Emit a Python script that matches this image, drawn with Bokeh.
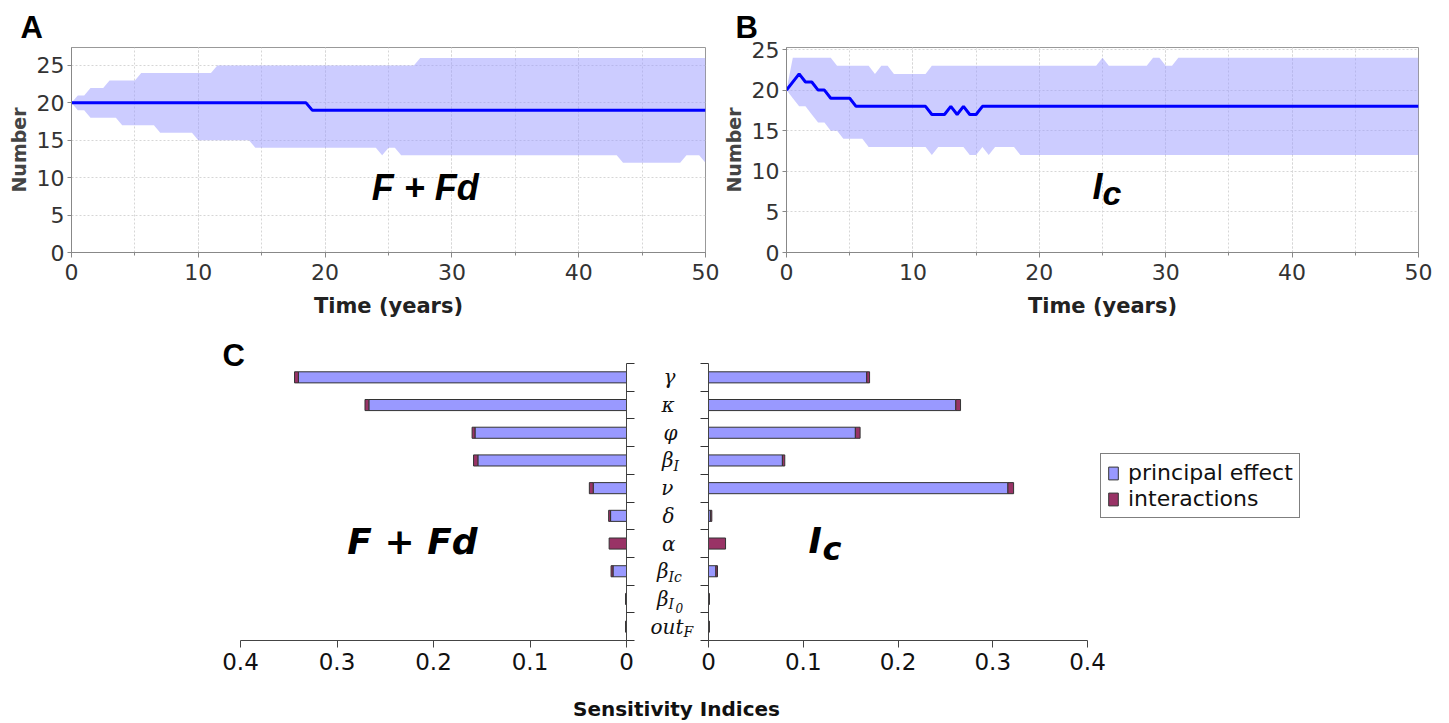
from bokeh.plotting import figure
from bokeh.models import (Range1d, Label, ColumnDataSource, FixedTicker,
                          SingleIntervalTicker, NumeralTickFormatter, Legend, LegendItem)
from bokeh.core.properties import value
from bokeh.layouts import column, row
from bokeh.embed import file_html
from bokeh.resources import INLINE

# ---------------- data: panel A (F + Fd), vertices ----------------
a_mean_t = [0, 18.5, 19, 50]
a_mean_v = [20, 20, 19, 19]
a_hi_t = [0, 0.5, 1, 1.5, 2.5, 3, 5, 5.5, 11, 11.5, 27, 27.5, 50]
a_hi_v = [20, 21, 21, 22, 22, 23, 23, 24, 24, 25, 25, 26, 26]
a_lo_t = [0, 0.5, 1, 1.5, 3.5, 4, 6.5, 7, 9.5, 10, 14, 14.5, 24, 24.5, 25, 25.5, 26, 43, 43.5, 48, 48.5, 49.5, 50]
a_lo_v = [20, 19, 19, 18, 18, 17, 17, 16, 16, 15, 15, 14, 14, 13, 14, 14, 13, 13, 12, 12, 13, 13, 12]

# ---------------- data: panel B (Ic) ----------------
b_mean_t = [0, 1, 1.5, 2, 2.5, 3, 3.5, 5, 5.5, 11, 11.5, 12.5, 13, 13.5, 14, 14.5, 15, 15.5, 50]
b_mean_v = [20, 22, 21, 21, 20, 20, 19, 19, 18, 18, 17, 17, 18, 17, 18, 17, 17, 18, 18]
b_hi_t = [0, 0.5, 3.5, 4, 6.5, 7, 7.5, 8, 8.5, 11, 11.5, 24.5, 25, 25.5, 28.5, 29, 29.5, 30, 30.5, 31, 50]
b_hi_v = [20, 24, 24, 23, 23, 22, 23, 23, 22, 22, 23, 23, 24, 23, 23, 24, 24, 23, 23, 24, 24]
b_lo_t = [0, 0.5, 1, 1.5, 2, 2.5, 3, 3.5, 4, 4.5, 6, 6.5, 11, 11.5, 12, 14, 14.5, 15, 15.5, 16, 16.5, 18, 18.5, 50]
b_lo_v = [20, 19, 18, 18, 17, 16, 16, 15, 15, 14, 14, 13, 13, 12, 13, 13, 12, 12, 13, 12, 13, 13, 12, 12]

# ---------------- data: panel C (sensitivity indices) ----------------
par_main = ["γ", "κ", "φ", "β", "ν", "δ", "α", "β", "β", "out"]
par_sub = ["", "", "", "I", "", "", "", "Ic", "I", "F"]
par_subsub = ["", "", "", "", "", "", "", "", "0", ""]
ffd_principal = [0.340, 0.267, 0.157, 0.154, 0.0345, 0.0165, 0.0, 0.014, 0.0, 0.0]
ffd_interaction = [0.004, 0.004, 0.003, 0.0045, 0.004, 0.002, 0.018, 0.002, 0.001, 0.001]
ic_principal = [0.167, 0.261, 0.155, 0.078, 0.316, 0.002, 0.0, 0.0078, 0.0, 0.0]
ic_interaction = [0.003, 0.005, 0.005, 0.0025, 0.006, 0.0015, 0.018, 0.0017, 0.001, 0.001]
si_ticks = [0, 0.1, 0.2, 0.3, 0.4]

BAND = "#9999ff"
LINE = "#0000ff"
PRIN = "#9999ff"
INTER = "#993366"
SANS = "DejaVu Sans"


def ts_panel(mean_t, mean_v, hi_t, hi_v, lo_t, lo_v, ymax, mbl, mbr, fw, letter):
    p = figure(frame_width=fw, frame_height=205, min_border_left=mbl, min_border_right=mbr,
               min_border_top=47, min_border_bottom=76,
               x_range=Range1d(0, 50), y_range=Range1d(0, ymax),
               output_backend="svg", toolbar_location=None)
    p.title.text = letter
    p.title.align = "left"
    p.title.offset = -51
    p.title.standoff = 5
    p.title.text_font = "Liberation Sans"
    p.title.text_font_style = "bold"
    p.title.text_font_size = "31px"
    p.title.text_color = "black"
    p.patch(hi_t + lo_t[::-1], hi_v + lo_v[::-1], fill_color=BAND, fill_alpha=0.5, line_color=None)
    p.line(mean_t, mean_v, line_color=LINE, line_width=3)
    p.outline_line_color = "#999999"
    p.xaxis.ticker = SingleIntervalTicker(interval=10, num_minor_ticks=2)
    p.yaxis.ticker = SingleIntervalTicker(interval=5, num_minor_ticks=0)
    for ax in (p.xaxis, p.yaxis):
        ax.axis_line_color = "#888888"
        ax.major_tick_line_color = "#888888"
        ax.minor_tick_line_color = "#888888"
        ax.major_tick_in = 0
        ax.minor_tick_in = 0
        ax.major_label_text_font = SANS
        ax.major_label_text_font_size = "22px"
        ax.major_label_text_color = "#333333"
        ax.axis_label_text_font = SANS
        ax.axis_label_text_font_style = "bold"
    p.xaxis.major_tick_out = 5
    p.xaxis.minor_tick_out = 3
    p.xaxis.major_label_standoff = 6
    p.xaxis.axis_label = "Time (years)"
    p.xaxis.axis_label_text_font_size = "21px"
    p.xaxis.axis_label_text_color = "#222222"
    p.xaxis.axis_label_standoff = 11
    p.yaxis.major_tick_out = 4
    p.yaxis.minor_tick_out = 0
    p.yaxis.major_label_standoff = 3
    p.yaxis.axis_label = "Number"
    p.yaxis.axis_label_text_font_size = "19px"
    p.yaxis.axis_label_text_color = "#444444"
    p.yaxis.axis_label_standoff = 4
    for g in (p.xgrid, p.ygrid):
        g.grid_line_color = "#d6d6d6"
        g.grid_line_dash = "2 2"
    p.xgrid.minor_grid_line_color = "#d6d6d6"
    p.xgrid.minor_grid_line_dash = "2 2"
    return p


pa = ts_panel(a_mean_t, a_mean_v, a_hi_t, a_hi_v, a_lo_t, a_lo_v, 27.4, 71, 14, 634, "A")
pa.add_layout(Label(x=27.9, y=8.69, text="F + Fd", text_font="Liberation Sans", text_font_style="bold italic",
                    text_font_size="36px", text_baseline="middle", text_align="center", text_color="black"))

pb = ts_panel(b_mean_t, b_mean_v, b_hi_t, b_hi_v, b_lo_t, b_lo_v, 25.25, 67, 20, 632, "B")
pb.add_layout(Label(x=24.2, y=8.07, text="I", text_font="Liberation Sans", text_font_style="bold italic",
                    text_font_size="36px", text_baseline="middle", text_align="left", text_color="black"))
pb.add_layout(Label(x=25.0, y=7.27, text="c", text_font="Liberation Sans", text_font_style="bold italic",
                    text_font_size="34px", text_baseline="middle", text_align="left", text_color="black"))

# ---------------- panel C ----------------
n = len(par_main)
row_px = 277 / n
c_top = n + 23 / row_px          # room above the first bar for the panel letter
ypos = [n - 0.5 - k for k in range(n)]
src_l = ColumnDataSource(dict(y=ypos, p=ffd_principal,
                              tot=[a + b for a, b in zip(ffd_principal, ffd_interaction)]))
src_r = ColumnDataSource(dict(y=ypos, p=ic_principal,
                              tot=[a + b for a, b in zip(ic_principal, ic_interaction)]))


def style_c(p):
    p.grid.visible = False
    p.outline_line_color = None
    p.xaxis.ticker = FixedTicker(ticks=si_ticks)
    p.xaxis.bounds = (0, 0.4)
    p.xaxis.formatter = NumeralTickFormatter(format="0.[0]")
    p.xaxis.major_label_text_font = SANS
    p.xaxis.major_label_text_font_size = "23px"
    p.xaxis.major_label_text_color = "#111111"
    p.xaxis.major_tick_out = 7
    p.xaxis.major_tick_in = 0
    p.xaxis.minor_tick_line_color = None
    p.xaxis.major_label_standoff = 5
    p.xaxis.axis_line_color = "#444444"
    p.xaxis.major_tick_line_color = "#444444"
    p.yaxis.ticker = FixedTicker(ticks=list(range(n + 1)))
    p.yaxis.bounds = (0, n)
    p.yaxis.major_label_overrides = {k: "" for k in range(n + 1)}
    p.yaxis.major_label_standoff = 0
    p.yaxis.major_tick_out = 8
    p.yaxis.major_tick_in = 0
    p.yaxis.minor_tick_line_color = None
    p.yaxis.axis_line_color = "#444444"
    p.yaxis.major_tick_line_color = "#333333"


def c_fig(**kw):
    return figure(frame_height=300, min_border_top=12, min_border_bottom=45,
                  y_range=Range1d(0, c_top), output_backend="svg", toolbar_location=None, **kw)


pl = c_fig(frame_width=426, min_border_left=200, min_border_right=20,
           x_range=Range1d(0.4 + 40 / 965, 0), y_axis_location="right")
pl.hbar(y="y", left=0, right="p", height=0.4, source=src_l, fill_color=PRIN, line_color="#333333", line_width=1)
pl.hbar(y="y", left="p", right="tot", height=0.4, source=src_l, fill_color=INTER, line_color="#333333", line_width=1)
style_c(pl)
pl.add_layout(Label(x=0.4187, y=10.29, text="C", text_font="Liberation Sans", text_font_style="bold",
                    text_font_size="31px", text_baseline="middle", text_align="left", text_color="black"))
pl.add_layout(Label(x=0.2218, y=3.59, text="F + Fd", text_font=SANS, text_font_style="bold italic",
                    text_font_size="36px", text_baseline="middle", text_align="center", text_color="black"))

# middle strip with the parameter names
lab_off = [-33, -34, -31, -35, -35, -34, -33, -40, -40, -25]
lab_src = ColumnDataSource(dict(
    y=ypos, main=par_main, sub=par_sub, subsub=par_subsub,
    ysub=[v - 0.2 for v in ypos], ysubsub=[v - 0.33 for v in ypos],
    ox=lab_off, ox2=[o + 7 for o in lab_off]))
pm = c_fig(frame_width=50, min_border_left=0, min_border_right=0,
           x_range=Range1d(-62, -12), x_axis_location=None, y_axis_location=None)
pm.grid.visible = False
pm.outline_line_color = None
pm.text(x="ox", y="y", text="main", source=lab_src, text_align="right", text_baseline="middle",
        text_font=value("DejaVu Serif"), text_font_style="italic", text_font_size="20px", text_color="#111111")
pm.text(x="ox", y="ysub", text="sub", source=lab_src, text_align="left", text_baseline="middle",
        text_font=value("DejaVu Serif"), text_font_style="italic", text_font_size="14px", text_color="#111111")
pm.text(x="ox2", y="ysubsub", text="subsub", source=lab_src, text_align="left", text_baseline="middle",
        text_font=value("DejaVu Serif"), text_font_style="italic", text_font_size="12px", text_color="#111111")

xr_end = 0.4 * 610 / 379
pr = c_fig(frame_width=610, min_border_left=12, min_border_right=10, x_range=Range1d(0, xr_end))
rp = pr.hbar(y="y", left=0, right="p", height=0.4, source=src_r, fill_color=PRIN, line_color="#333333", line_width=1)
ri = pr.hbar(y="y", left="p", right="tot", height=0.4, source=src_r, fill_color=INTER, line_color="#333333", line_width=1)
style_c(pr)
pr.add_layout(Label(x=0.1055, y=3.61, text="I", text_font=SANS, text_font_style="bold italic",
                    text_font_size="36px", text_baseline="middle", text_align="left", text_color="black"))
pr.add_layout(Label(x=0.1203, y=3.32, text="c", text_font=SANS, text_font_style="bold italic",
                    text_font_size="32px", text_baseline="middle", text_align="left", text_color="black"))

legend = Legend(items=[LegendItem(label="principal effect", renderers=[rp]),
                       LegendItem(label="interactions", renderers=[ri])],
                location=(392, 122), border_line_color="black", border_line_width=1,
                background_fill_color="white", background_fill_alpha=1.0,
                label_text_font=SANS, label_text_font_size="22px", label_text_color="#111111",
                glyph_width=12, glyph_height=16, label_standoff=9, padding=6, spacing=1, margin=0)
pr.add_layout(legend)

strip = figure(width=1438, height=38, x_range=Range1d(0, 1438), y_range=Range1d(0, 38),
               min_border=0, x_axis_location=None, y_axis_location=None,
               output_backend="svg", toolbar_location=None)
strip.grid.visible = False
strip.outline_line_color = None
strip.add_layout(Label(x=676, y=15, text="Sensitivity Indices", text_font=SANS, text_font_style="bold",
                       text_font_size="20px", text_baseline="middle", text_align="center",
                       text_color="#111111"))

layout = column(row(pa, pb), row(pl, pm, pr), strip)
open("out.html", "w").write(file_html(layout, INLINE))
